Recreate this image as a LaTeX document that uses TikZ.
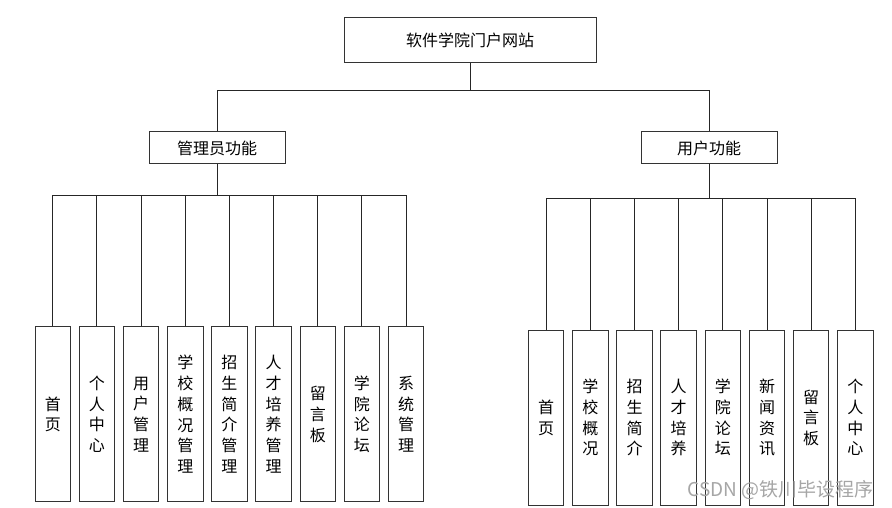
\documentclass[tikz,border=0pt]{standalone}
\usepackage{fontspec}
\newfontfamily\cjk{Noto Sans CJK SC}
\tikzset{
  box/.style={draw=black!80, line width=1pt, fill=white, inner sep=0pt,
    font=\cjk\fontsize{16pt}{20pt}\selectfont},
  leaf/.style={box, minimum width=35.5pt, minimum height=175pt, align=center,
    font=\cjk\fontsize{16pt}{20.7pt}\selectfont},
  link/.style={line width=1pt, black!85},
}
\begin{document}
\begin{tikzpicture}[x=1pt, y=-1pt]
    % Page frame
    \useasboundingbox (0,0) rectangle (892,508);

    % Layout parameters
    \def\dx{44.17} % distance between two leaves
    \def\ya{414.3} % centre of the admin leaves
    \def\yu{417.7} % centre of the user leaves

    % Root and the two groups
    \node[box, minimum width=252pt, minimum height=45pt] (site) at (470,40.5) {软件学院门户网站};
    \node[box, minimum width=136pt, minimum height=32pt] (admin) at (217,148) {管理员功能};
    \node[box, minimum width=136pt, minimum height=32pt] (user) at (709,148) {用户功能};

    % Admin leaves
    \node[leaf] (a1) at (52.8+0*\dx,\ya) {首\\页};
    \node[leaf] (a2) at (52.8+1*\dx,\ya) {个\\人\\中\\心};
    \node[leaf] (a3) at (52.8+2*\dx,\ya) {用\\户\\管\\理};
    \node[leaf] (a4) at (52.8+3*\dx,\ya) {学\\校\\概\\况\\管\\理};
    \node[leaf] (a5) at (52.8+4*\dx,\ya) {招\\生\\简\\介\\管\\理};
    \node[leaf] (a6) at (52.8+5*\dx,\ya) {人\\才\\培\\养\\管\\理};
    \node[leaf] (a7) at (52.8+6*\dx,\ya) {留\\言\\板};
    \node[leaf] (a8) at (52.8+7*\dx,\ya) {学\\院\\论\\坛};
    \node[leaf] (a9) at (52.8+8*\dx,\ya) {系\\统\\管\\理};

    % User leaves
    \node[leaf] (u1) at (546.2+0*\dx,\yu) {首\\页};
    \node[leaf] (u2) at (546.2+1*\dx,\yu) {学\\校\\概\\况};
    \node[leaf] (u3) at (546.2+2*\dx,\yu) {招\\生\\简\\介};
    \node[leaf] (u4) at (546.2+3*\dx,\yu) {人\\才\\培\\养};
    \node[leaf] (u5) at (546.2+4*\dx,\yu) {学\\院\\论\\坛};
    \node[leaf] (u6) at (546.2+5*\dx,\yu) {新\\闻\\资\\讯};
    \node[leaf] (u7) at (546.2+6*\dx,\yu) {留\\言\\板};
    \node[leaf] (u8) at (546.2+7*\dx,\yu) {个\\人\\中\\心};

    % Root to groups
    \draw[link] (site.south) -- ++(0,27) -| (admin.north);
    \draw[link] (site.south) -- ++(0,27) -| (user.north);

    % Admin group to its leaves
    \draw[link] (admin.south) -- ++(0,31) -| (a1.north);
    \draw[link] (admin.south) -- ++(0,31) -| (a2.north);
    \draw[link] (admin.south) -- ++(0,31) -| (a3.north);
    \draw[link] (admin.south) -- ++(0,31) -| (a4.north);
    \draw[link] (admin.south) -- ++(0,31) -| (a5.north);
    \draw[link] (admin.south) -- ++(0,31) -| (a6.north);
    \draw[link] (admin.south) -- ++(0,31) -| (a7.north);
    \draw[link] (admin.south) -- ++(0,31) -| (a8.north);
    \draw[link] (admin.south) -- ++(0,31) -| (a9.north);

    % User group to its leaves
    \draw[link] (user.south) -- ++(0,34) -| (u1.north);
    \draw[link] (user.south) -- ++(0,34) -| (u2.north);
    \draw[link] (user.south) -- ++(0,34) -| (u3.north);
    \draw[link] (user.south) -- ++(0,34) -| (u4.north);
    \draw[link] (user.south) -- ++(0,34) -| (u5.north);
    \draw[link] (user.south) -- ++(0,34) -| (u6.north);
    \draw[link] (user.south) -- ++(0,34) -| (u7.north);
    \draw[link] (user.south) -- ++(0,34) -| (u8.north);

    % Watermark
    \node[anchor=east, inner sep=0pt, text=black!35, font=\cjk\fontsize{19pt}{19pt}\selectfont] (mark) at (874,490) {CSDN @铁川毕设程序};
\end{tikzpicture}
\end{document}
